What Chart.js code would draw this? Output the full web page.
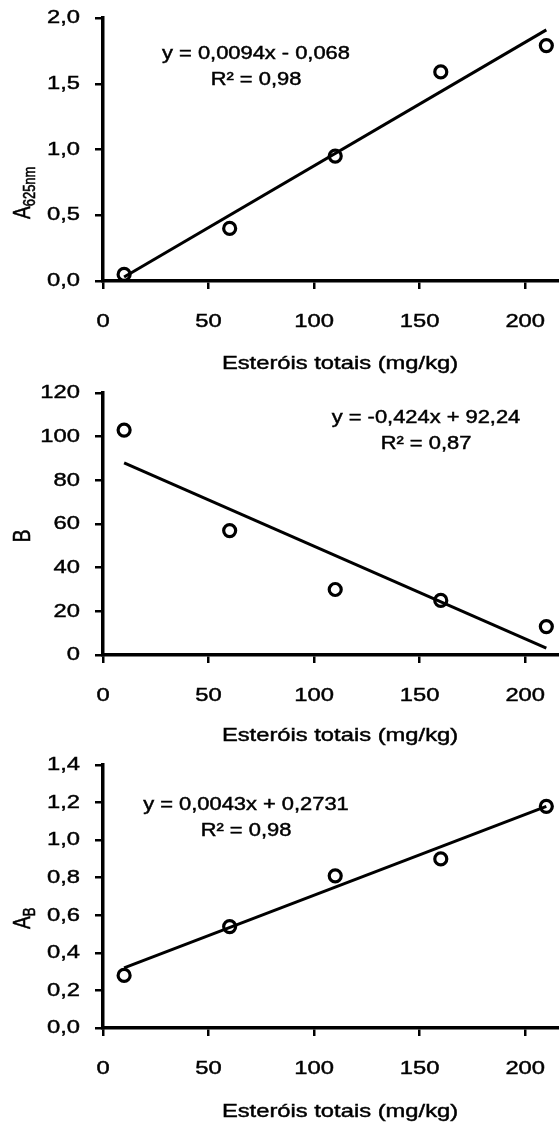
<!DOCTYPE html>
<html>
<head>
<meta charset="utf-8">
<script src="https://cdn.jsdelivr.net/npm/chart.js@4/dist/chart.umd.min.js"></script>
<style>
  html, body { margin: 0; background: #fff; overflow: hidden; }
  .panel { position: relative; width: 559px; overflow: hidden; }
</style>
</head>
<body>
<div class="panel" style="height:375px"><canvas id="c1"></canvas></div>
<div class="panel" style="height:375px"><canvas id="c2"></canvas></div>
<div class="panel" style="height:372px"><canvas id="c3"></canvas></div>
<script>
/* ================= DATA ================= */
const xVals = [10, 60, 110, 160, 210];
const absVals = [0.05, 0.40, 0.95, 1.59, 1.79];
const bVals = [103, 57, 30, 25, 13];
const abVals = [0.28, 0.54, 0.81, 0.90, 1.18];

const trendX = [10, 210];
const absTrend = [0.03, 1.91];
const bTrend = [88.0, 3.2];
const abTrend = [0.32, 1.18];

const xTicks = [0, 50, 100, 150, 200];
const absTicks = [0, 0.5, 1.0, 1.5, 2.0];
const bTicks = [0, 20, 40, 60, 80, 100, 120];
const abTicks = [0, 0.2, 0.4, 0.6, 0.8, 1.0, 1.2, 1.4];

const xTitle = "Esteróis totais (mg/kg)";
const absEq = ["y = 0,0094x - 0,068", "R² = 0,98"];
const bEq = ["y = -0,424x + 92,24", "R² = 0,87"];
const abEq = ["y = 0,0043x + 0,2731", "R² = 0,98"];

/* ================= STYLE ================= */
const FONT = "'Liberation Sans', Arial, sans-serif";
const SX = 1.25; // source picture is stretched horizontally

const panels = [
  { id: "c1", top: 18, bottom: 281, yMax: 2, yTicks: absTicks, dec: 1,
    pts: absVals, trend: absTrend, eq: absEq, eqX: 256, eqY: 59,
    label: "A", sub: "625nm", labX: 30, labY: 219, titleOff: 88 },
  { id: "c2", top: 18, bottom: 280, yMax: 120, yTicks: bTicks, dec: 0,
    pts: bVals, trend: bTrend, eq: bEq, eqX: 426, eqY: 48,
    label: "B", sub: "", labX: 30, labY: 161, titleOff: 86 },
  { id: "c3", top: 15, bottom: 278, yMax: 1.4, yTicks: abTicks, dec: 1,
    pts: abVals, trend: abTrend, eq: abEq, eqX: 246, eqY: 60,
    label: "A", sub: "B", labX: 30, labY: 179, titleOff: 89 }
];

/* ================= HELPERS ================= */
function inkText(ctx, text, x, y) {
  ctx.fillText(text, x, y);
  ctx.strokeText(text, x, y); // thin outline: the scanned text is a bit heavier
}

function wideText(ctx, text, x, y, size, align, baseline) {
  ctx.save();
  ctx.font = `${size}px ${FONT}`;
  ctx.fillStyle = "#000";
  ctx.strokeStyle = "#000";
  ctx.lineWidth = 0.45;
  ctx.textAlign = align;
  ctx.textBaseline = baseline || "alphabetic";
  ctx.translate(x, y);
  ctx.scale(SX, 1);
  inkText(ctx, text, 0, 0);
  ctx.restore();
}

function fmt(v, dec) {
  return v.toFixed(dec).replace(".", ",");
}

const textPlugin = {
  id: "texts",
  afterDraw(chart) {
    const p = chart.options.plugins.texts;
    const ctx = chart.ctx;
    const xs = chart.scales.x, ys = chart.scales.y;
    const area = chart.chartArea;

    // y tick labels
    p.yTicks.forEach(v => {
      wideText(ctx, fmt(v, p.dec), 80, ys.getPixelForValue(v), 19, "right", "middle");
    });
    // x tick labels
    xTicks.forEach(v => {
      wideText(ctx, String(v), xs.getPixelForValue(v), area.bottom + 46, 19, "center");
    });
    // x title
    wideText(ctx, xTitle, 340, area.bottom + p.titleOff, 19, "center");

    // equation
    wideText(ctx, p.eq[0], p.eqX, p.eqY, 17.5, "center");
    wideText(ctx, p.eq[1], p.eqX, p.eqY + 26, 17.5, "center");

    // rotated y label with subscript
    ctx.save();
    ctx.fillStyle = "#000";
    ctx.strokeStyle = "#000";
    ctx.lineWidth = 0.45;
    ctx.translate(p.labX, p.labY);
    ctx.rotate(-Math.PI / 2);
    ctx.scale(1, SX);
    ctx.textBaseline = "alphabetic";
    ctx.textAlign = "left";
    ctx.font = `19px ${FONT}`;
    const w = ctx.measureText(p.label).width;
    if (!p.sub) {
      ctx.textAlign = "center";
      inkText(ctx, p.label, 0, 0);
    } else {
      inkText(ctx, p.label, 0, 0);
      ctx.font = `13px ${FONT}`;
      inkText(ctx, p.sub, w, 4);
    }
    ctx.restore();
  }
};

/* ================= CHARTS ================= */
function drawPanel(p) {
  const canvas = document.getElementById(p.id);
  const H = canvas.parentElement.clientHeight;

  new Chart(canvas, {
    data: {
      datasets: [
        {
          type: "line",
          data: trendX.map((x, i) => ({ x, y: p.trend[i] })),
          borderColor: "#000",
          borderWidth: 3,
          pointRadius: 0,
          order: 2
        },
        {
          type: "scatter",
          data: xVals.map((x, i) => ({ x, y: p.pts[i] })),
          pointRadius: 6,
          pointBorderWidth: 3.2,
          pointBorderColor: "#000",
          pointBackgroundColor: "rgba(0,0,0,0)",
          order: 1
        }
      ]
    },
    options: {
      responsive: false,
      animation: false,
      layout: { autoPadding: false, padding: { top: p.top, right: 0, left: 0, bottom: 0 } },
      plugins: {
        legend: { display: false },
        tooltip: { enabled: false },
        texts: p
      },
      scales: {
        x: {
          type: "linear",
          min: 0,
          max: 216,
          afterBuildTicks: s => { s.ticks = xTicks.map(v => ({ value: v })); },
          afterFit: s => { s.height = H - p.bottom; s.paddingLeft = 0; s.paddingRight = 0; },
          ticks: { display: false },
          grid: { drawOnChartArea: false, drawTicks: true, tickLength: 8, color: "#000", lineWidth: 2.5 },
          border: { color: "#000", width: 3.5 }
        },
        y: {
          type: "linear",
          min: 0,
          max: p.yMax,
          afterBuildTicks: s => { s.ticks = p.yTicks.map(v => ({ value: v })); },
          afterFit: s => { s.width = 103; s.paddingTop = 0; s.paddingBottom = 0; },
          ticks: { display: false },
          grid: { drawOnChartArea: false, drawTicks: true, tickLength: 8, color: "#000", lineWidth: 2.5 },
          border: { color: "#000", width: 3.5 }
        }
      }
    },
    plugins: [textPlugin]
  });
}

// fixed-size canvases so the plot box lands where the reference has it
panels.forEach(p => {
  const c = document.getElementById(p.id);
  c.width = 559;
  c.height = c.parentElement.clientHeight;
});
panels.forEach(drawPanel);
</script>
</body>
</html>
